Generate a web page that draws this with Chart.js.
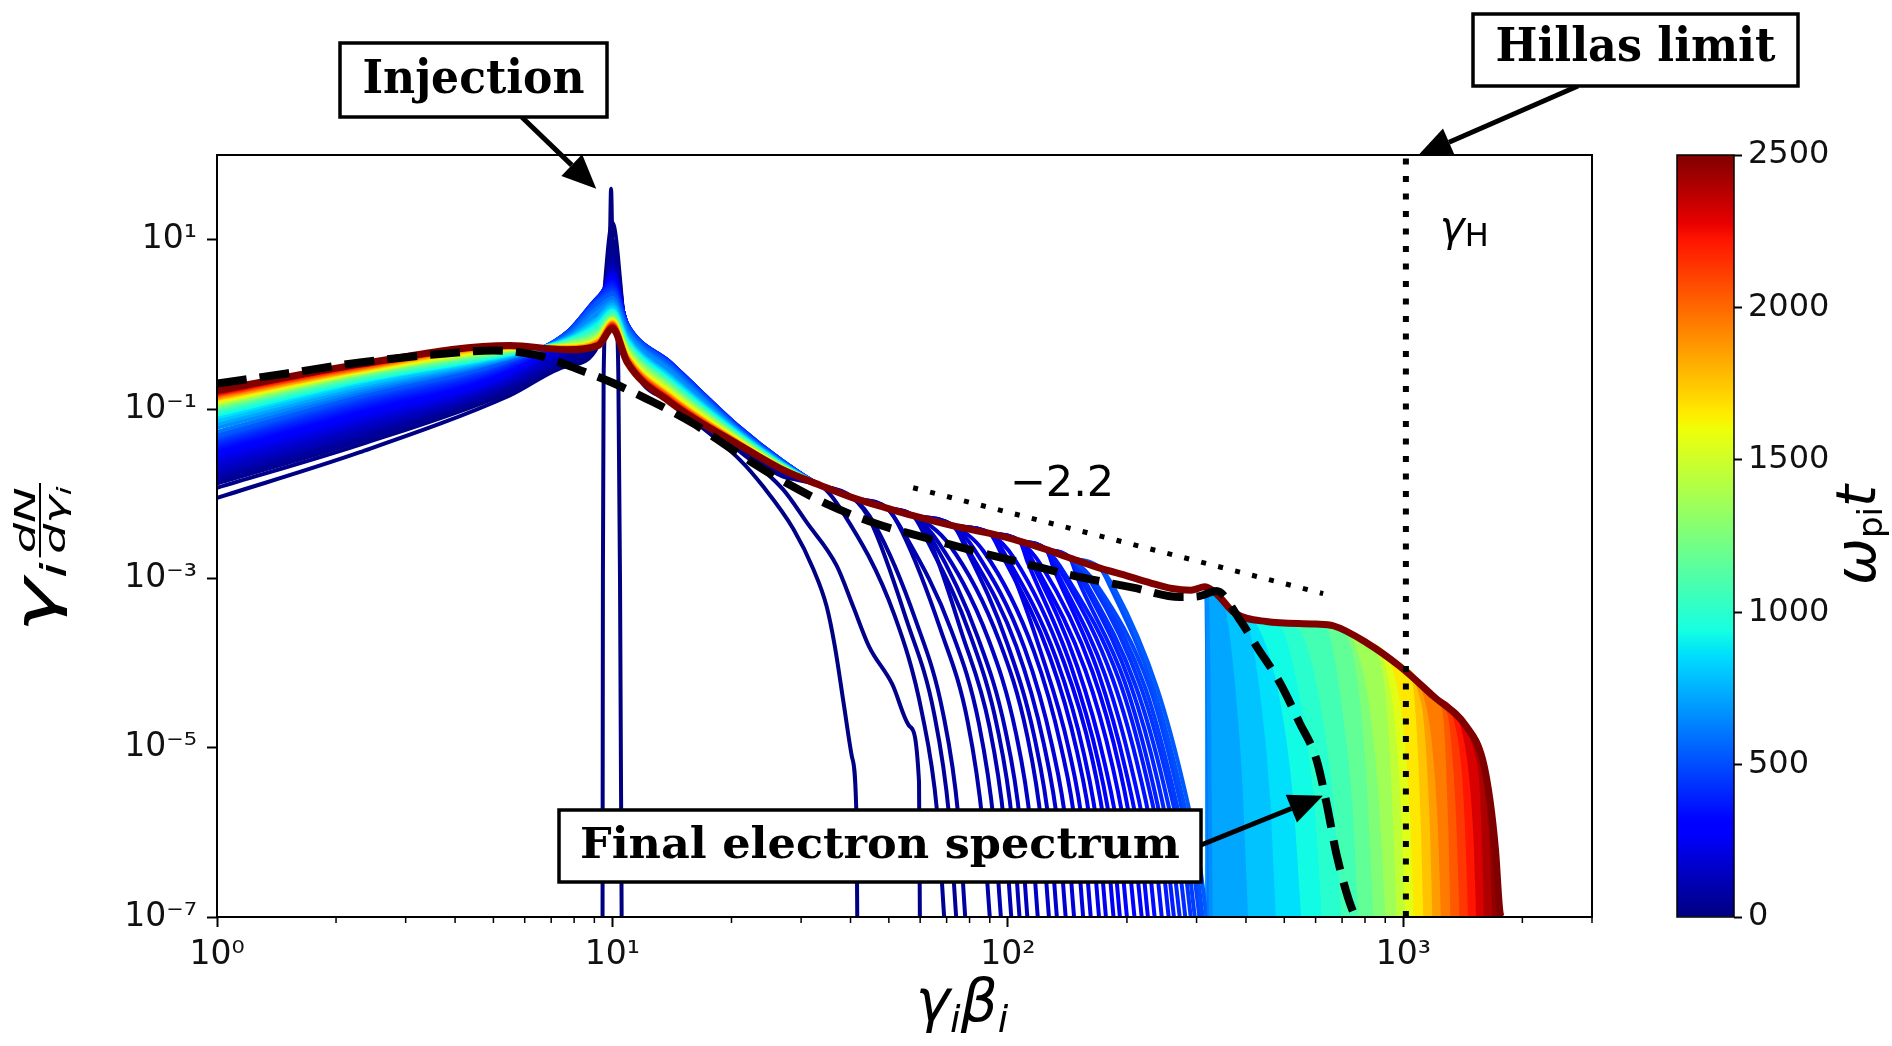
<!DOCTYPE html>
<html><head><meta charset="utf-8">
<script src="https://cdn.jsdelivr.net/npm/chart.js@4.4.1/dist/chart.umd.min.js"></script>
<style>
html,body{margin:0;padding:0;background:#fff;overflow:hidden;}
#wrap{position:relative;width:1892px;height:1046px;}
canvas{position:absolute;top:0;}
#main{left:0;} #cb{left:1600px;}
</style></head>
<body><div id="wrap"><canvas id="main" width="1892" height="1046"></canvas><canvas id="cb" width="292" height="1046"></canvas></div>
<script>
// ---------------- values ----------------
const xTickVals = [1, 10, 100, 1000];
const xTickLabels = ['10⁰', '10¹', '10²', '10³'];
const xMinorVals = [2,3,4,5,6,7,8,9,20,30,40,50,60,70,80,90,200,300,400,500,600,700,800,900,2000,3000];
const yTickVals = [1e-7, 1e-5, 1e-3, 1e-1, 10];
const yTickLabels = ['10⁻⁷', '10⁻⁵', '10⁻³', '10⁻¹', '10¹'];
const cbTickVals = [0, 500, 1000, 1500, 2000, 2500];
const tMax = 2500;

// snapshot times (ω_pi t) of the plotted spectra
const curveT = [10,25,40,55,70,90,100,110,120,130,140,150,162,175,188,200,212,225,238,250,265,280,295,310,325,340,355,370,385,400,420,440,460,480,505,530,
                600,660,720,790,860,930,1000,1080,1170,1260,1360,1460,1560,1660,1760,1860,1950,2040,2130,2220,2310,2400,2460,2500];
// low-energy part: log10(γ dN/dγ) at these γβ
const lowX = [1, 2.3, 5.5, 7.7, 9.2, 10, 10.9, 14, 21, 27];
const lowLog = [
 [-2.05,-1.51,-0.84,-0.49,-0.25,1.20,-0.25,-0.92,-1.60,-1.85],
 [-1.93,-1.42,-0.80,-0.46,-0.20,1.00,-0.20,-0.88,-1.50,-1.95],
 [-1.88,-1.38,-0.77,-0.43,-0.15,0.90,-0.16,-0.84,-1.45,-1.80],
 [-1.85,-1.35,-0.75,-0.40,-0.10,0.82,-0.13,-0.80,-1.42,-1.78],
 [-1.82,-1.32,-0.73,-0.37,-0.05,0.76,-0.11,-0.76,-1.40,-1.76],
 [-1.79,-1.29,-0.71,-0.34,0.00,0.72,-0.10,-0.72,-1.38,-1.74],
 [-1.78,-1.28,-0.70,-0.33,0.02,0.70,-0.10,-0.70,-1.37,-1.73],
 [-1.76,-1.26,-0.69,-0.31,0.04,0.69,-0.09,-0.68,-1.35,-1.72],
 [-1.75,-1.25,-0.68,-0.30,0.05,0.68,-0.09,-0.67,-1.34,-1.71],
 [-1.73,-1.23,-0.67,-0.28,0.07,0.66,-0.08,-0.65,-1.33,-1.70],
 [-1.72,-1.22,-0.66,-0.27,0.08,0.65,-0.08,-0.64,-1.32,-1.70],
 [-1.70,-1.20,-0.65,-0.25,0.10,0.64,-0.07,-0.62,-1.31,-1.69],
 [-1.68,-1.19,-0.64,-0.23,0.13,0.63,-0.05,-0.60,-1.30,-1.69],
 [-1.66,-1.17,-0.63,-0.20,0.16,0.62,-0.04,-0.57,-1.29,-1.68],
 [-1.64,-1.16,-0.62,-0.19,0.18,0.61,-0.04,-0.56,-1.29,-1.68],
 [-1.62,-1.14,-0.61,-0.18,0.20,0.60,-0.03,-0.54,-1.28,-1.67],
 [-1.60,-1.13,-0.60,-0.17,0.22,0.59,-0.03,-0.53,-1.28,-1.67],
 [-1.58,-1.11,-0.59,-0.16,0.23,0.58,-0.02,-0.51,-1.27,-1.66],
 [-1.57,-1.10,-0.58,-0.15,0.25,0.57,-0.02,-0.50,-1.27,-1.66],
 [-1.55,-1.08,-0.57,-0.14,0.26,0.56,-0.01,-0.49,-1.26,-1.65],
 [-1.54,-1.07,-0.56,-0.13,0.27,0.55,-0.01,-0.48,-1.26,-1.65],
 [-1.52,-1.05,-0.55,-0.12,0.28,0.54,0.00,-0.47,-1.25,-1.64],
 [-1.51,-1.04,-0.54,-0.12,0.29,0.53,0.00,-0.47,-1.25,-1.64],
 [-1.49,-1.02,-0.53,-0.11,0.30,0.52,0.00,-0.46,-1.24,-1.63],
 [-1.48,-1.01,-0.52,-0.11,0.31,0.51,0.00,-0.46,-1.24,-1.63],
 [-1.46,-0.99,-0.51,-0.10,0.31,0.50,0.00,-0.45,-1.23,-1.63],
 [-1.45,-0.98,-0.50,-0.10,0.32,0.49,0.00,-0.45,-1.23,-1.63],
 [-1.43,-0.96,-0.49,-0.09,0.32,0.47,0.00,-0.45,-1.22,-1.62],
 [-1.42,-0.95,-0.48,-0.09,0.32,0.46,0.00,-0.45,-1.22,-1.62],
 [-1.40,-0.93,-0.47,-0.09,0.32,0.44,0.00,-0.45,-1.22,-1.62],
 [-1.39,-0.92,-0.46,-0.09,0.31,0.43,-0.01,-0.45,-1.22,-1.62],
 [-1.37,-0.90,-0.45,-0.09,0.30,0.41,-0.01,-0.46,-1.23,-1.62],
 [-1.36,-0.89,-0.44,-0.09,0.29,0.40,-0.02,-0.47,-1.23,-1.62],
 [-1.34,-0.87,-0.43,-0.10,0.28,0.38,-0.02,-0.47,-1.24,-1.63],
 [-1.33,-0.86,-0.43,-0.10,0.27,0.37,-0.03,-0.48,-1.24,-1.63],
 [-1.31,-0.84,-0.42,-0.11,0.25,0.35,-0.04,-0.49,-1.25,-1.63],
 [-1.27,-0.81,-0.40,-0.13,0.20,0.31,-0.07,-0.52,-1.26,-1.64],
 [-1.22,-0.78,-0.39,-0.15,0.15,0.27,-0.10,-0.55,-1.27,-1.64],
 [-1.18,-0.75,-0.38,-0.16,0.09,0.24,-0.14,-0.60,-1.28,-1.65],
 [-1.14,-0.72,-0.37,-0.17,0.06,0.21,-0.16,-0.62,-1.29,-1.65],
 [-1.10,-0.69,-0.36,-0.18,0.03,0.18,-0.18,-0.64,-1.30,-1.66],
 [-1.07,-0.67,-0.35,-0.19,0.00,0.16,-0.20,-0.66,-1.31,-1.66],
 [-1.04,-0.65,-0.34,-0.20,-0.03,0.14,-0.22,-0.68,-1.32,-1.67],
 [-1.01,-0.63,-0.33,-0.21,-0.06,0.12,-0.24,-0.70,-1.33,-1.67],
 [-0.99,-0.61,-0.32,-0.22,-0.09,0.10,-0.26,-0.72,-1.34,-1.68],
 [-0.97,-0.59,-0.31,-0.23,-0.11,0.08,-0.28,-0.74,-1.35,-1.68],
 [-0.95,-0.58,-0.30,-0.24,-0.13,0.07,-0.30,-0.76,-1.36,-1.69],
 [-0.93,-0.57,-0.29,-0.25,-0.15,0.06,-0.32,-0.78,-1.37,-1.69],
 [-0.91,-0.56,-0.29,-0.26,-0.17,0.05,-0.34,-0.80,-1.38,-1.70],
 [-0.90,-0.55,-0.28,-0.26,-0.18,0.04,-0.36,-0.82,-1.39,-1.70],
 [-0.88,-0.54,-0.28,-0.27,-0.19,0.03,-0.37,-0.84,-1.40,-1.70],
 [-0.87,-0.53,-0.27,-0.27,-0.20,0.02,-0.38,-0.85,-1.40,-1.71],
 [-0.85,-0.52,-0.27,-0.28,-0.21,0.01,-0.39,-0.86,-1.41,-1.71],
 [-0.84,-0.51,-0.26,-0.28,-0.22,0.00,-0.40,-0.87,-1.41,-1.71],
 [-0.83,-0.50,-0.26,-0.29,-0.23,0.00,-0.41,-0.88,-1.42,-1.71],
 [-0.82,-0.49,-0.26,-0.29,-0.24,-0.01,-0.42,-0.89,-1.42,-1.72],
 [-0.81,-0.48,-0.25,-0.29,-0.24,-0.02,-0.43,-0.90,-1.42,-1.72],
 [-0.80,-0.48,-0.25,-0.30,-0.25,-0.03,-0.44,-0.91,-1.43,-1.72],
 [-0.79,-0.47,-0.25,-0.30,-0.25,-0.04,-0.44,-0.92,-1.43,-1.72],
 [-0.78,-0.47,-0.25,-0.30,-0.25,-0.05,-0.45,-0.92,-1.43,-1.72]
];
// common upper envelope of the spectra (log10)
const envX   = [33.5,40.6,49.4,57.6,72.8,90,107,125,143.5,171,200,228,260,290,315,340,372,450,600,665,807,980,1190,1444,1587,1660,1710,1760];
const envLog = [-1.90,-2.05,-2.17,-2.26,-2.38,-2.47,-2.56,-2.66,-2.76,-2.88,-2.97,-3.05,-3.12,-3.14,-3.10,-3.20,-3.40,-3.51,-3.54,-3.56,-3.76,-4.04,-4.39,-4.75,-5.14,-5.65,-6.20,-6.97];
// high-energy cut-off of each spectrum: [γβ, log10]
const tailPts = [
 [[24,-1.91],[28.7,-2.42],[32.2,-2.89],[34.8,-3.33],[36.5,-3.8],[38.5,-4.5],[40.3,-5.1],[41.4,-5.8],[41.6,-7]],
 [[31,-2.34],[36.9,-2.85],[40.6,-3.33],[44.5,-3.8],[51,-4.25],[56.5,-4.75],[59.6,-5.4],[59.9,-7]],
 [[38,-2.2],[51.8,-3.45],[60.7,-4.6],[66.2,-5.75],[69,-7]],
 [[45,-2.33],[55.5,-3.5],[65.1,-4.6],[71,-5.8],[74,-7]],
 [[46,-2.36],[58.5,-3.5],[68.6,-4.6],[74.9,-5.8],[78,-7]],
 [[54,-2.45],[67.5,-3.6],[79.2,-4.7],[86.4,-5.9],[90,-7]],
 [[54.5,-2.46],[72,-3.62],[84.5,-4.72],[92.2,-5.9],[96,-7]],
 [[63,-2.52],[76.5,-3.65],[89.8,-4.75],[97.9,-5.9],[102,-7]],
 [[62,-2.52],[80.3,-3.67],[94.2,-4.78],[102.7,-5.9],[107,-7]],
 [[64.5,-2.55],[84,-3.7],[98.6,-4.8],[107.5,-5.9],[112,-7]],
 [[66.6,-2.57],[89.3,-3.72],[104.7,-4.82],[114.2,-5.92],[119,-7]],
 [[71,-2.6],[95.3,-3.75],[111.8,-4.85],[121.9,-5.95],[127,-7]],
 [[78,-2.63],[99.8,-3.78],[117,-4.9],[127.7,-5.98],[133,-7]],
 [[79,-2.64],[105,-3.8],[123.2,-4.95],[134.4,-6.0],[140,-7]],
 [[82.3,-2.66],[110.3,-3.83],[129.4,-4.98],[141.1,-6.0],[147,-7]],
 [[86.8,-2.68],[116.3,-3.86],[136.4,-5.0],[148.8,-6.0],[155,-7]],
 [[98,-2.72],[121.5,-3.89],[142.6,-5.02],[155.5,-6.02],[162,-7]],
 [[96,-2.7],[127.5,-3.92],[149.6,-5.05],[163.2,-6.05],[170,-7]],
 [[99,-2.74],[132.8,-3.96],[155.8,-5.08],[169.9,-6.08],[177,-7]],
 [[103.6,-2.76],[138.8,-4.0],[162.8,-5.1],[177.6,-6.1],[185,-7]],
 [[112,-2.8],[144,-4.02],[169,-5.15],[184.3,-6.12],[192,-7]],
 [[115,-2.82],[150,-4.05],[176,-5.2],[192,-6.15],[200,-7]],
 [[117,-2.84],[156.8,-4.08],[183.9,-5.22],[200.6,-6.18],[209,-7]],
 [[122,-2.86],[163.5,-4.1],[191.8,-5.25],[209,-6.2],[218,-7]],
 [[131,-2.9],[169.5,-4.12],[198.9,-5.28],[217,-6.2],[226,-7]],
 [[133,-2.92],[176.3,-4.15],[206.8,-5.3],[225.6,-6.2],[235,-7]],
 [[137,-2.94],[183.8,-4.18],[215.6,-5.32],[235.2,-6.22],[245,-7]],
 [[140,-2.96],[191,-4.2],[224,-5.35],[244.8,-6.25],[255,-7]],
 [[150,-3.0],[197.3,-4.22],[231.4,-5.38],[252.5,-6.28],[263,-7]],
 [[154,-3.02],[204,-4.25],[239.4,-5.4],[261,-6.3],[272,-7]],
 [[157,-3.04],[210.8,-4.28],[247.3,-5.42],[269.8,-6.3],[281,-7]],
 [[163,-3.06],[217.5,-4.3],[255.2,-5.45],[278.4,-6.3],[290,-7]],
 [[166,-3.07],[222.8,-4.3],[261.4,-5.48],[285.1,-6.32],[297,-7]],
 [[168,-3.08],[228.8,-4.3],[268.4,-5.5],[292.8,-6.35],[305,-7]],
 [[182,-3.11],[233.3,-4.3],[273.7,-5.5],[298.6,-6.35],[311,-7]],
 [[186,-3.12],[238.5,-4.3],[280,-5.5],[305,-6.35],[318,-7]],
 [[318,-3.3],[320.5,-4.8],[322,-7]],
 [[319,-3.3],[323,-4.9],[326,-7]],
 [[352,-3.4],[370,-4.2],[388,-5.5],[400,-7]],
 [[400,-3.55],[430,-4.4],[455,-5.6],[470,-7]],
 [[420,-3.55],[480,-4.4],[520,-5.6],[545,-7]],
 [[490,-3.62],[545,-4.5],[590,-5.7],[615,-7]],
 [[540,-3.62],[610,-4.5],[660,-5.7],[690,-7]],
 [[640,-3.65],[690,-4.5],[735,-5.7],[760,-7]],
 [[720,-3.72],[770,-4.5],[805,-5.7],[830,-7]],
 [[740,-3.75],[810,-4.5],[860,-5.7],[890,-7]],
 [[860,-3.92],[900,-4.6],[930,-5.8],[950,-7]],
 [[880,-3.95],[940,-4.7],[980,-5.9],[1000,-7]],
 [[920,-4.02],[990,-4.8],[1030,-5.9],[1050,-7]],
 [[1040,-4.2],[1070,-4.85],[1095,-5.95],[1110,-7]],
 [[1080,-4.28],[1125,-4.95],[1155,-6.0],[1170,-7]],
 [[1100,-4.32],[1170,-5.0],[1210,-6.0],[1230,-7]],
 [[1240,-4.55],[1265,-5.1],[1285,-6.0],[1300,-7]],
 [[1280,-4.62],[1320,-5.2],[1350,-6.05],[1370,-7]],
 [[1330,-4.7],[1390,-5.3],[1420,-6.1],[1440,-7]],
 [[1380,-4.75],[1450,-5.35],[1490,-6.15],[1510,-7]],
 [[1500,-4.95],[1540,-5.45],[1565,-6.2],[1580,-7]],
 [[1530,-5.05],[1600,-5.6],[1640,-6.3],[1660,-7]],
 [[1630,-5.5],[1680,-6.0],[1705,-6.5],[1720,-7]],
 [[1785,-7]]
];
// injection spike at t = 0
const spikeX   = [9.44,9.46,9.5,9.7,9.85,9.92,10.0,10.15,10.35,10.45,10.55];
const spikeLog = [-7,-3,-0.6,0.3,0.9,1.6,0.9,0.3,-0.6,-3,-7];
// final electron spectrum (dashed)
const finalX   = [1,1.5,2.3,3.66,5.0,6.5,8.6,10,12.2,16,20.4,26.5,34.8,46.1,61.7,82.6,111.5,140.7,207.5,272,305,337,386,425,487,547,603,639,680,750,762];
const finalLog = [-0.70,-0.58,-0.45,-0.35,-0.31,-0.37,-0.57,-0.69,-0.88,-1.17,-1.5,-1.83,-2.12,-2.35,-2.52,-2.68,-2.83,-2.95,-3.11,-3.22,-3.21,-3.15,-3.49,-3.80,-4.23,-4.71,-5.14,-5.65,-6.29,-6.96,-7.0];
// −2.2 power-law guide and Hillas limit
const slopeX = [57.6, 627];
const slopeLog = [-1.93, -3.18];
const hillasX = 1015;

// ---------------- helpers ----------------
const JET = {
  r: [[0,0],[0.35,0],[0.66,1],[0.89,1],[1,0.5]],
  g: [[0,0],[0.125,0],[0.375,1],[0.64,1],[0.91,0],[1,0]],
  b: [[0,0.5],[0.11,1],[0.34,1],[0.65,0],[1,0]]
};
function seg(p, f){ for(let i=1;i<p.length;i++){ if(f<=p[i][0]){ const [x0,y0]=p[i-1],[x1,y1]=p[i]; return y0+(y1-y0)*(f-x0)/(x1-x0); } } return p[p.length-1][1]; }
function jet(f){ f=Math.min(1,Math.max(0,f)); return `rgb(${Math.round(255*seg(JET.r,f))},${Math.round(255*seg(JET.g,f))},${Math.round(255*seg(JET.b,f))})`; }
const L = v => 10 ** v;

function curvePoints(i){
  const tail = tailPts[i], xCut = tail[0][0], pts = [];
  lowX.forEach((x,k)=>{ if(x < xCut) pts.push({x, y: L(lowLog[i][k])}); });
  envX.forEach((x,k)=>{ if(x < xCut) pts.push({x, y: L(envLog[k])}); });
  tail.forEach(([x,v])=>pts.push({x, y: L(v)}));
  return pts;
}
const byTime = curveT.map((t,i)=>i).sort((a,b)=>curveT[a]-curveT[b]);
const lastIdx = byTime[byTime.length-1];
const reachesFar = i => tailPts[i][tailPts[i].length-1][0] > 330;

// ---------------- datasets ----------------
const ds = [];
[...byTime].reverse().filter(reachesFar).forEach(i=>{
  const c = jet(curveT[i]/tMax);
  ds.push({data: curvePoints(i).filter(p=>p.x>=315), fill:'start', backgroundColor:c, borderColor:c, borderWidth:1});
});
ds.push({data: spikeX.map((x,k)=>({x, y:L(spikeLog[k])})), borderColor: jet(0), borderWidth: 4});
byTime.forEach(i=>{
  ds.push({data: curvePoints(i), borderColor: jet(curveT[i]/tMax), borderWidth: i===lastIdx ? 7 : 4});
});
ds.push({data: finalX.map((x,k)=>({x, y:L(finalLog[k])})), borderColor:'#000', borderWidth:8, borderDash:[30,13]});
ds.push({data: slopeX.map((x,k)=>({x, y:L(slopeLog[k])})), borderColor:'#000', borderWidth:5, borderDash:[5,12.5], cubicInterpolationMode:'default', tension:0});
ds.push({data: [{x:hillasX, y:1e-7},{x:hillasX, y:100}], borderColor:'#000', borderWidth:6, borderDash:[6,11.5], cubicInterpolationMode:'default', tension:0});
ds.forEach((d,k)=>{ d.order = ds.length-k; d.showLine = true; d.pointRadius = 0; if(d.fill===undefined) d.fill=false; });

// ---------------- drawing helpers ----------------
function arrow(ctx,x0,y0,x1,y1){
  const a=Math.atan2(y1-y0,x1-x0), HL=34, HW=15;
  const bx=x1-HL*Math.cos(a), by=y1-HL*Math.sin(a);
  ctx.lineWidth=5; ctx.lineCap='butt';
  ctx.beginPath(); ctx.moveTo(x0,y0); ctx.lineTo(bx,by); ctx.stroke();
  ctx.beginPath(); ctx.moveTo(x1,y1);
  ctx.lineTo(bx-HW*Math.sin(a), by+HW*Math.cos(a));
  ctx.lineTo(bx+HW*Math.sin(a), by-HW*Math.cos(a));
  ctx.closePath(); ctx.fill();
}
function textBox(ctx,text,x0,y0,x1,y1,base,fontPx,textW){
  ctx.fillStyle='#fff'; ctx.fillRect(x0,y0,x1-x0,y1-y0);
  ctx.strokeStyle='#000'; ctx.lineWidth=3.5; ctx.strokeRect(x0,y0,x1-x0,y1-y0);
  ctx.font=`bold ${fontPx}px "DejaVu Serif"`;
  const w=ctx.measureText(text).width;
  ctx.save(); ctx.translate((x0+x1)/2, base); ctx.scale(textW/w,1);
  ctx.textAlign='center'; ctx.textBaseline='alphabetic'; ctx.fillStyle='#000';
  ctx.fillText(text,0,0); ctx.restore();
}
function runs(ctx,parts,x,y){
  ctx.textAlign='left'; ctx.textBaseline='alphabetic';
  for(const [t,f,dy] of parts){ ctx.font=f; ctx.fillText(t,x,y+dy); x+=ctx.measureText(t).width; }
  return x;
}
function runsW(ctx,parts){ let w=0; for(const [t,f] of parts){ ctx.font=f; w+=ctx.measureText(t).width; } return w; }

const decor = {
  id:'decor',
  afterDatasetsDraw(chart){
    const {ctx, chartArea:a, scales:{x}} = chart;
    ctx.save();
    ctx.strokeStyle='#000'; ctx.lineWidth=2;
    ctx.strokeRect(a.left,a.top,a.right-a.left,a.bottom-a.top);
    ctx.lineWidth=1.5;
    xMinorVals.forEach(v=>{ const px=x.getPixelForValue(v); ctx.beginPath(); ctx.moveTo(px,a.bottom); ctx.lineTo(px,a.bottom+6); ctx.stroke(); });
    ctx.restore();
  },
  afterDraw(chart){
    const {ctx, scales:{x,y}} = chart;
    const F='"DejaVu Sans"';
    ctx.save(); ctx.fillStyle='#000'; ctx.strokeStyle='#000';
    ctx.font=`43px ${F}`; ctx.textAlign='center'; ctx.textBaseline='alphabetic';
    ctx.fillText('−2.2', x.getPixelForValue(137), y.getPixelForValue(L(-2.03)));
    runs(ctx, [['γ',`italic 42px ${F}`,0],['H',`32px ${F}`,5]], x.getPixelForValue(1237), y.getPixelForValue(L(0.98)));
    const xp=[['γ',`italic 58px ${F}`,0],['i',`italic 38px ${F}`,11],['β',`italic 58px ${F}`,0],['i',`italic 38px ${F}`,11]];
    runs(ctx, xp, 962-runsW(ctx,xp)/2, 1021);
    // y axis title (rotated)
    ctx.save(); ctx.translate(46,558); ctx.rotate(-Math.PI/2);
    const fB=`italic 56px ${F}`, fS=`italic 35px ${F}`, fF=`italic 29px ${F}`, fFS=`italic 20px ${F}`;
    ctx.font=fB; const wg=ctx.measureText('γ').width;
    ctx.font=fS; const wi=ctx.measureText('i').width;
    ctx.font=fF; const wn=ctx.measureText('dN').width, wd=ctx.measureText('dγ').width;
    ctx.font=fFS; const wdi=ctx.measureText('i').width;
    const fw=Math.max(wn,wd+wdi)+4, tot=wg+wi+3+fw;
    ctx.scale(150/tot,1);
    let xx=-tot/2; const base=9;
    ctx.font=fB; ctx.fillText('γ',xx,base); xx+=wg;
    ctx.font=fS; ctx.fillText('i',xx,base+11); xx+=wi+3;
    const barY=base-15;
    ctx.fillRect(xx,barY-1,fw,2);
    ctx.font=fF; ctx.fillText('dN',xx+(fw-wn)/2,barY-5);
    const dx0=xx+(fw-wd-wdi)/2;
    ctx.fillText('dγ',dx0,barY+25); ctx.font=fFS; ctx.fillText('i',dx0+wd,barY+31);
    ctx.restore();
    // colour-bar title (rotated)
    ctx.save(); ctx.translate(1857,535); ctx.rotate(-Math.PI/2);
    const cp=[['ω',`italic 56px ${F}`,0],['pi',`34px ${F}`,7],['t',`italic 56px ${F}`,0]];
    runs(ctx, cp, -runsW(ctx,cp)/2, 18);
    ctx.restore();
    // annotations
    ctx.fillStyle='#000'; ctx.strokeStyle='#000';
    arrow(ctx, 521.7, 117, x.getPixelForValue(9.1), y.getPixelForValue(40));
    arrow(ctx, 1578, 86, x.getPixelForValue(1088), y.getPixelForValue(98));
    arrow(ctx, 1201, 845, x.getPixelForValue(626), y.getPixelForValue(2.7e-6));
    textBox(ctx,'Injection',340,43,607,117,93,47,222);
    textBox(ctx,'Hillas limit',1473,14,1798,86,61,46,280);
    textBox(ctx,'Final electron spectrum',559,810,1201,882,858,43,600);
    ctx.restore();
  }
};

Chart.defaults.font.family='"DejaVu Sans"';
new Chart(document.getElementById('main'), {
  type:'scatter',
  data:{datasets:ds},
  options:{
    responsive:false, animation:false, devicePixelRatio:1, events:[],
    plugins:{legend:{display:false}, tooltip:{enabled:false}},
    layout:{padding:{left:0, top:155, right:300, bottom:0}},
    elements:{point:{radius:0}, line:{borderCapStyle:'butt', borderJoinStyle:'round', cubicInterpolationMode:'monotone'}},
    scales:{
      x:{type:'logarithmic', min:1, max:3000,
         afterBuildTicks:s=>{ s.ticks=xTickVals.map(v=>({value:v})); },
         afterFit:s=>{ s.height=129; },
         ticks:{autoSkip:false, maxRotation:0, padding:9, color:'#111', font:{size:33}, callback:v=>{ const k=xTickVals.indexOf(v); return k<0?'':xTickLabels[k]; }},
         grid:{drawOnChartArea:false, drawTicks:true, tickLength:10, tickWidth:2, tickColor:'#000'},
         border:{display:false}},
      y:{type:'logarithmic', min:1e-7, max:100,
         afterBuildTicks:s=>{ s.ticks=yTickVals.map(v=>({value:v})); },
         afterFit:s=>{ s.width=217; },
         ticks:{autoSkip:false, padding:10, color:'#111', font:{size:33}, callback:v=>{ const k=yTickVals.indexOf(v); return k<0?'':yTickLabels[k]; }},
         grid:{drawOnChartArea:false, drawTicks:true, tickLength:10, tickWidth:2, tickColor:'#000'},
         border:{display:false}}
    }
  },
  plugins:[decor]
});

// ---------------- colour bar ----------------
const cbStops=[0,0.11,0.125,0.34,0.35,0.375,0.64,0.65,0.66,0.89,0.91,1];
new Chart(document.getElementById('cb'), {
  type:'bar',
  data:{labels:[''], datasets:[{data:[[cbTickVals[0], cbTickVals[cbTickVals.length-1]]],
    backgroundColor:(c)=>{ const a=c.chart.chartArea; if(!a) return 'transparent';
      const g=c.chart.ctx.createLinearGradient(0,a.bottom,0,a.top); cbStops.forEach(f=>g.addColorStop(f,jet(f))); return g; },
    borderWidth:0, barPercentage:1, categoryPercentage:1}]},
  options:{
    responsive:false, animation:false, devicePixelRatio:1, events:[],
    plugins:{legend:{display:false}, tooltip:{enabled:false}},
    layout:{padding:{left:77, top:155, bottom:129, right:0}},
    scales:{
      x:{display:false},
      y:{position:'right', min:0, max:tMax,
         afterBuildTicks:s=>{ s.ticks=cbTickVals.map(v=>({value:v})); },
         afterFit:s=>{ s.width=158; },
         ticks:{color:'#111', font:{size:32}, padding:6, callback:v=>String(v)},
         grid:{drawOnChartArea:false, drawTicks:true, tickLength:8, tickWidth:2, tickColor:'#000'},
         border:{display:false}}
    }
  },
  plugins:[{id:'cbBox', afterDraw(ch){ const a=ch.chartArea, c=ch.ctx; c.save(); c.strokeStyle='#000'; c.lineWidth=1.5; c.strokeRect(a.left,a.top,a.right-a.left,a.bottom-a.top); c.restore(); }}]
});
</script>
</body></html>
